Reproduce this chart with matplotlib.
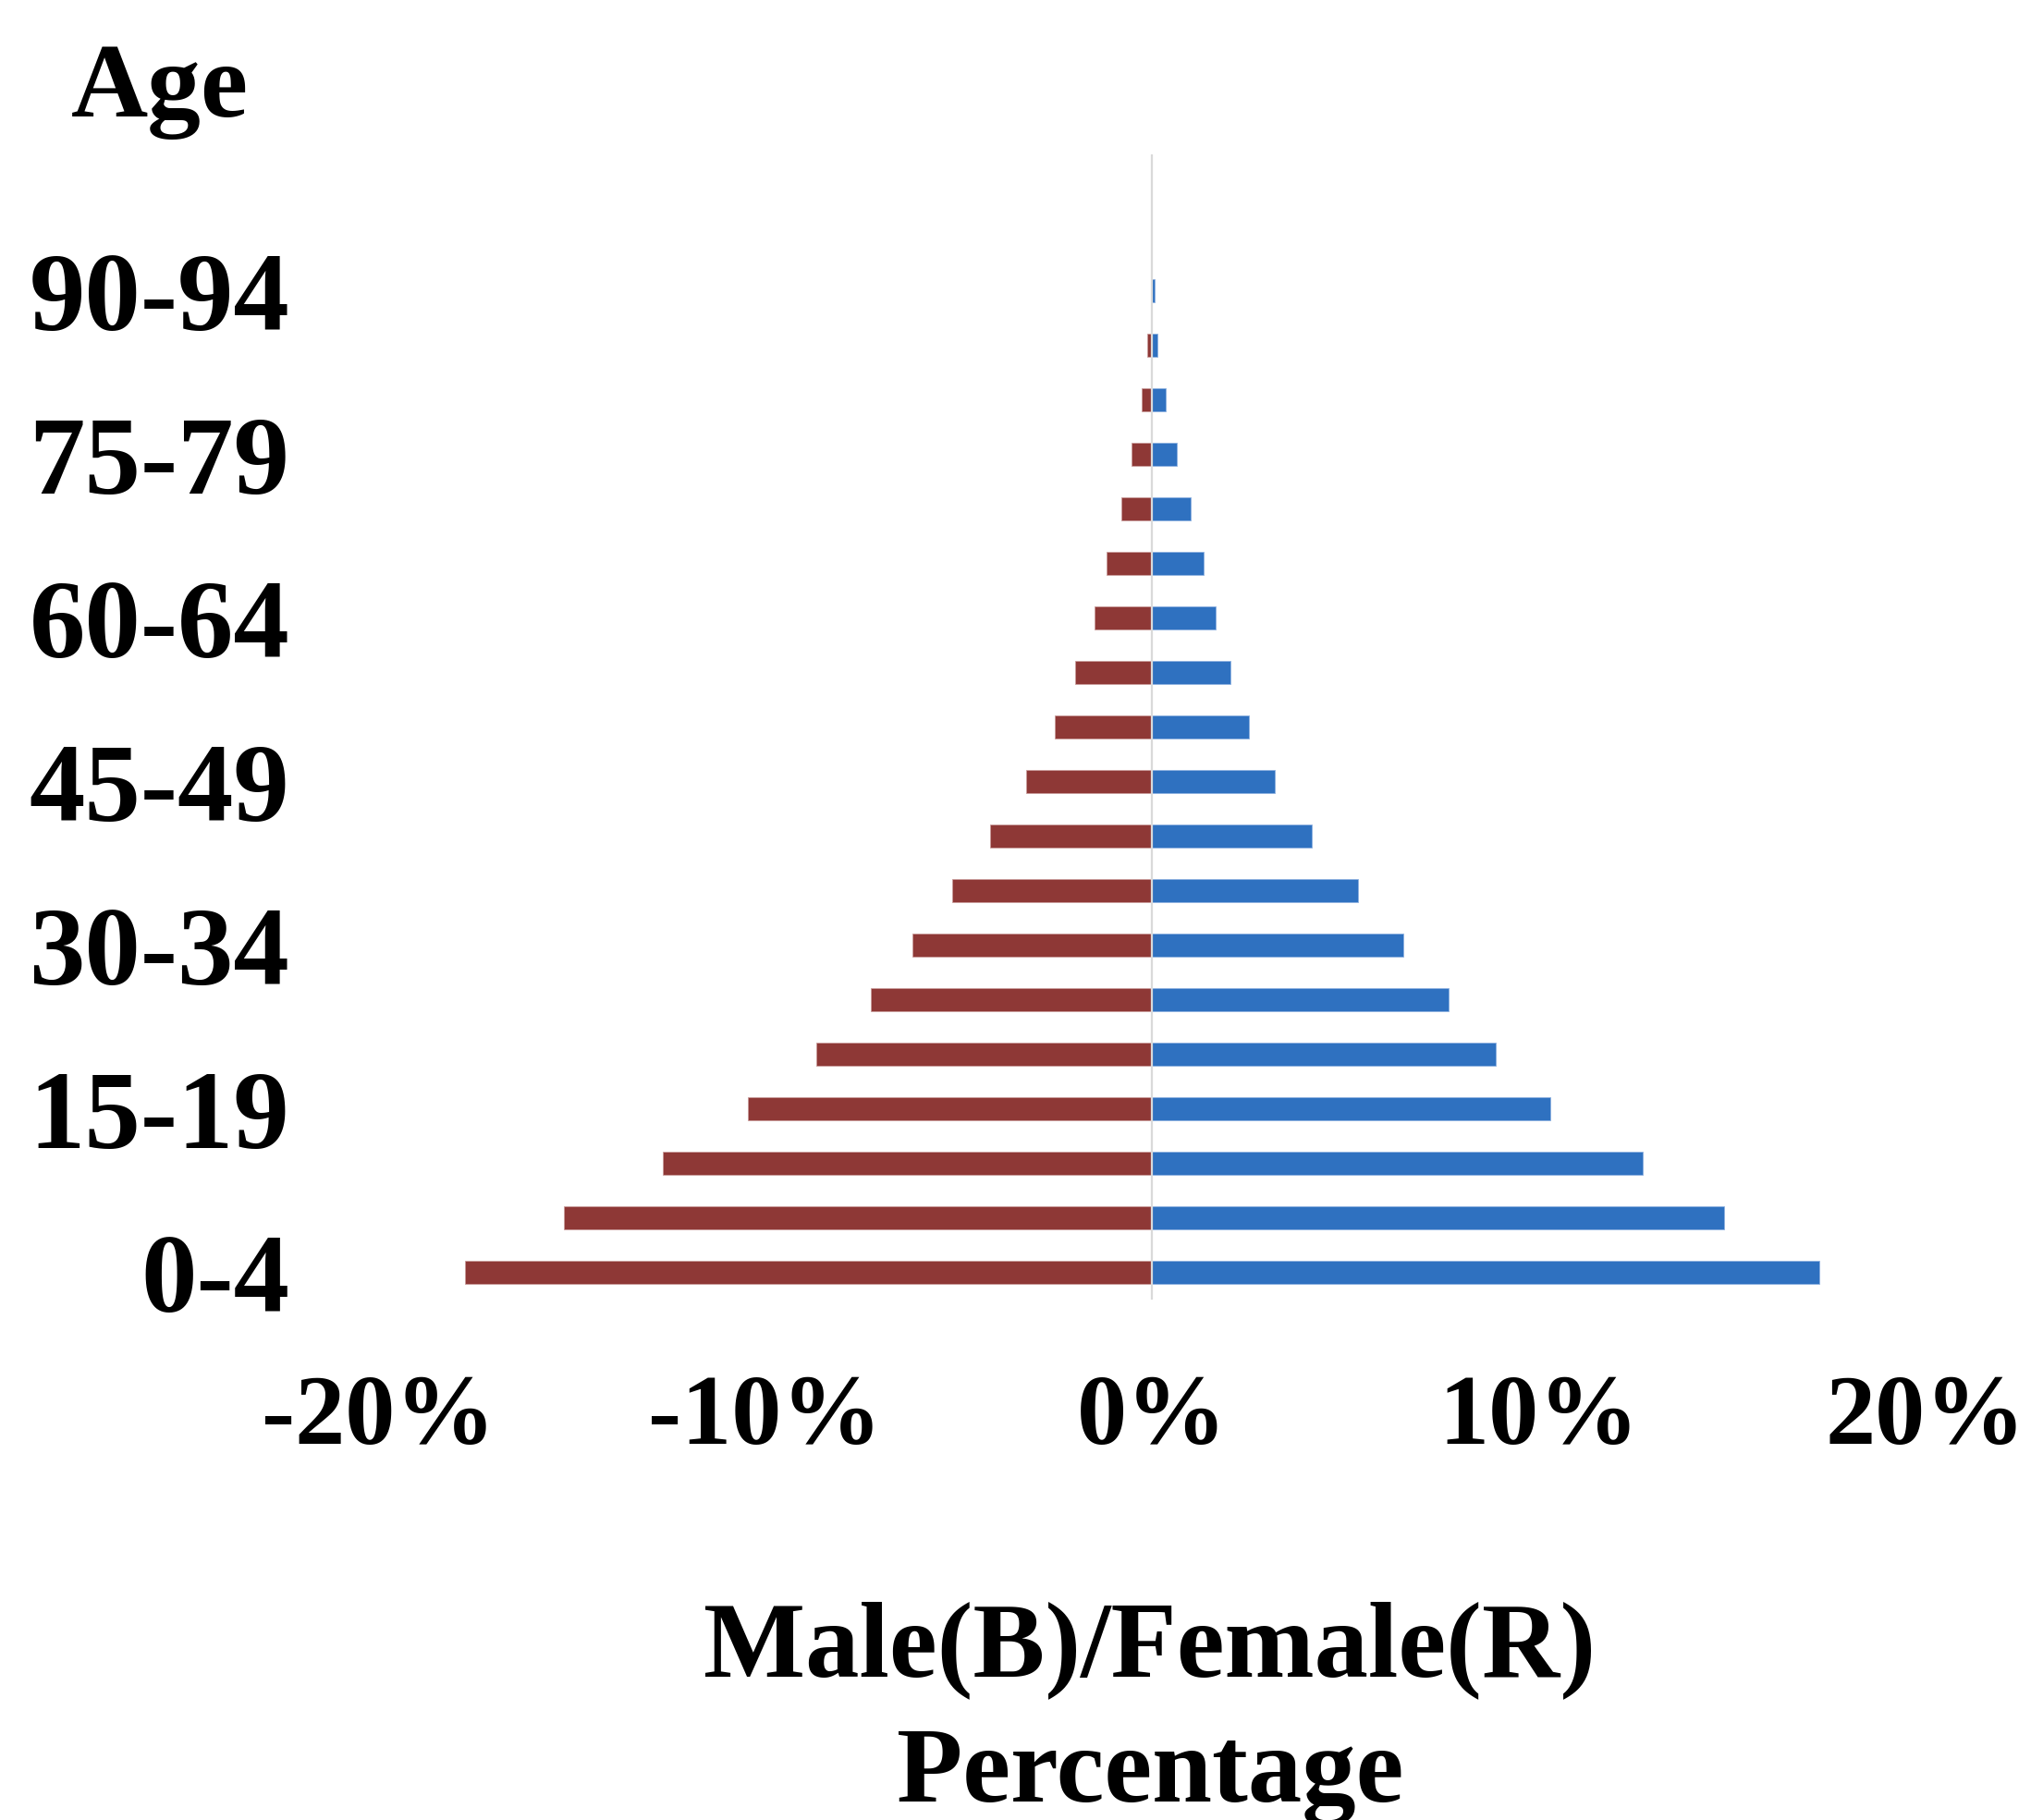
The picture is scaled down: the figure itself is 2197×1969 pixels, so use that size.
import numpy as np
import matplotlib
matplotlib.use("Agg")
import matplotlib.pyplot as plt

plt.rcParams['font.family'] = ['Liberation Serif', 'DejaVu Serif']
plt.rcParams['font.weight'] = 'bold'

# age groups, 0-4 at the bottom
age_groups = ["0-4", "5-9", "10-14", "15-19", "20-24", "25-29", "30-34",
              "35-39", "40-44", "45-49", "50-54", "55-59", "60-64", "65-69",
              "70-74", "75-79", "80-84", "85-89", "90-94", "95-99", "100+"]
# percent of population
male = [17.25, 14.8, 12.68, 10.3, 8.88, 7.66, 6.5, 5.34, 4.14, 3.18, 2.5,
        2.04, 1.66, 1.34, 1.0, 0.64, 0.35, 0.14, 0.06, 0.0, 0.0]
female = [17.75, 15.2, 12.63, 10.45, 8.68, 7.27, 6.2, 5.17, 4.17, 3.25, 2.51,
          1.98, 1.47, 1.17, 0.79, 0.52, 0.27, 0.12, 0.03, 0.0, 0.0]
xticks = [-20, -10, 0, 10, 20]

W, H = 2197, 1969
fig = plt.figure(figsize=(W / 100, H / 100), dpi=100)
ax = fig.add_axes([409 / W, 1 - 1406 / H, (2083 - 409) / W, (1406 - 167) / H])

y = np.arange(len(age_groups))
ax.barh(y, male, height=0.41, color='#2F71C0', edgecolor='#8DB0E0', linewidth=0.6, zorder=2)
ax.barh(y, -np.array(female), height=0.41, color='#8E3836', edgecolor='#C99C9B', linewidth=0.6, zorder=2)
ax.axvline(0, color='#D9D9D9', lw=1.6, zorder=3)

ax.set_xlim(-20, 20)
ax.set_ylim(-0.5, len(age_groups) - 0.5)
ax.set_xticks(xticks)
ax.set_xticklabels(["%d%%" % v for v in xticks])
ax.set_yticks(y[::3])
ax.set_yticklabels(age_groups[::3])
ax.tick_params(axis='x', length=0, pad=58, labelsize=78)
ax.tick_params(axis='y', length=0, pad=69, labelsize=87)
for lab in ax.get_xticklabels() + ax.get_yticklabels():
    lab.set_fontweight('bold')
for s in ax.spines.values():
    s.set_visible(False)

fig.text(77 / W, 1 - 126 / H, "Age", fontsize=83, fontweight='bold', ha='left', va='baseline')
fig.text(1244 / W, 1 - 1813 / H, "Male(B)/Female(R)", fontsize=84, fontweight='bold',
         ha='center', va='baseline')
fig.text(1244 / W, 1 - 1949 / H, "Percentage", fontsize=84, fontweight='bold',
         ha='center', va='baseline')

fig.savefig("out.png", dpi=100)
